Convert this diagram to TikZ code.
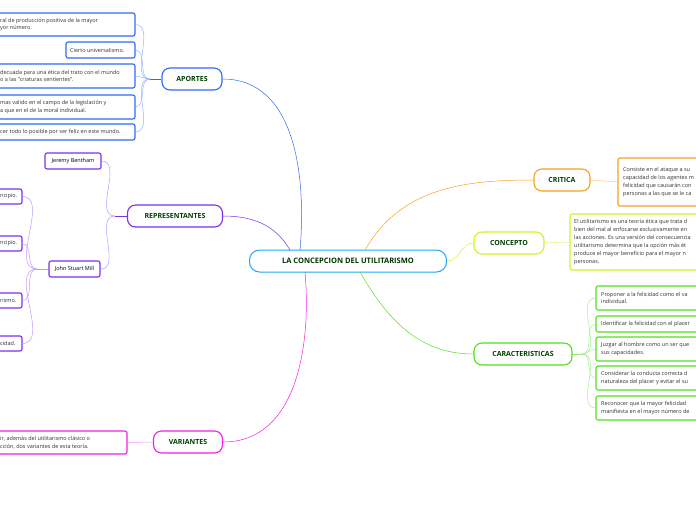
\documentclass[tikz,border=0pt]{standalone}
\usepackage{fontspec}
\setmainfont{Open Sans}
\begin{document}
\begin{tikzpicture}[x=1pt,y=-1pt,
 main/.style={draw,line width=1.1pt,rounded corners=8pt,fill=white,font=\bfseries\fontsize{7}{8}\selectfont,text=green!25!black,inner sep=0pt},
 leaf/.style={draw,line width=1.1pt,rounded corners=2pt,fill=white},
 lt/.style={font=\fontsize{5.5}{7.8}\selectfont,text=black!80,align=left,anchor=west,inner sep=0pt},
 con/.style={line width=0.5pt}]
\useasboundingbox (0,0) rectangle (696,520);
\clip (0,0) rectangle (696,520);
\definecolor{colB}{HTML}{2F6BF5}
\definecolor{colP}{HTML}{7B2FF0}
\definecolor{colM}{HTML}{F020E0}
\definecolor{colO}{HTML}{F5A020}
\definecolor{colY}{HTML}{D8F020}
\definecolor{colG}{HTML}{50E020}
% central
\node[draw=colB!60!cyan,line width=1pt,rounded corners=10pt,minimum width=197pt,minimum height=22pt,font=\bfseries\fontsize{7.5}{8}\selectfont,text=green!20!black] (c) at (348,261) {LA CONCEPCION DEL UTILITARISMO};
\coordinate (cbl) at (300,250);\coordinate (cpl) at (290,250);\coordinate (cml) at (305,272);
\coordinate (col) at (365,250);\coordinate (cgl) at (360,272);
% main nodes
\node[main,draw=colB,minimum width=60pt,minimum height=22pt] (ap) at (192,79) {APORTES};
\node[main,draw=colP,minimum width=95pt,minimum height=22pt] (re) at (175,216) {REPRESENTANTES};
\node[main,draw=colM,minimum width=69pt,minimum height=22pt] (va) at (188,442) {VARIANTES};
\node[main,draw=colO,minimum width=56pt,minimum height=22pt] (cr) at (562,180) {CRITICA};
\node[main,draw=colY,minimum width=70pt,minimum height=22pt] (cn) at (509,243) {CONCEPTO};
\node[main,draw=colG,minimum width=98pt,minimum height=22pt] (ca) at (523,354) {CARACTERISTICAS};
% central connectors
\draw[con,colB] (cbl) to[out=85,in=0] (ap.east);
\draw[con,colP] (cpl) to[out=120,in=0] (re.east);
\draw[con,colM] (cml) to[out=-85,in=0] (va.east);
\draw[con,colO] (col) to[out=60,in=180] (cr.west);
\draw[con,colY] (c.east) to[out=0,in=180] (cn.west);
\draw[con,colG] (cgl) to[out=-60,in=180] (ca.west);
% APORTES leaves
\draw[leaf,draw=colB] (-10,13) rectangle (135,36); \node[lt] (a1) at (0,24.5) {ral de producción positiva de la mayor\\yor número.};
\draw[leaf,draw=colB] (66,42) rectangle (135,58); \node[lt] (a2) at (70,50) {Cierto universalismo.};
\draw[leaf,draw=colB] (-10,64) rectangle (135,88); \node[lt] (a3) at (0,76) {decuada para una ética del trato con el mundo\\o a las "criaturas sentientes".};
\draw[leaf,draw=colB] (-10,95) rectangle (135,119); \node[lt] (a4) at (0,107) {mas valido en el campo de la legislación y\\a que en el de la moral individual.};
\draw[leaf,draw=colB] (-10,124) rectangle (135,140); \node[lt] (a5) at (0,132) {cer todo lo posible por ser feliz en este mundo.};
\coordinate (apf) at (150,79);
\draw[con,colB] (ap.west) -- (apf);
\foreach \y in {24.5,50,76,107,132}{\draw[con,colB!50] (apf) to[out=180,in=0] (135,\y);}
% REPRESENTANTES
\node[leaf,draw=colP,font=\fontsize{5.5}{6}\selectfont,minimum width=56pt,minimum height=16pt,inner sep=1pt] (jb) at (73,161) {Jeremy Bentham};
\node[leaf,draw=colP,font=\fontsize{5.5}{6}\selectfont,minimum width=51pt,minimum height=16pt,inner sep=1pt] (jm) at (74.5,269) {John Stuart Mill};
\coordinate (ref) at (115,216);
\draw[con,colP] (re.west) -- (ref);
\draw[con,colP!50] (ref) to[out=180,in=0] (jb.east);
\draw[con,colP!50] (ref) to[out=180,in=0] (jm.east);
\draw[leaf,draw=colP] (-10,189) rectangle (22,204); \node[lt] at (0,196.5) {ncipio.};
\draw[leaf,draw=colP] (-10,236) rectangle (22,251); \node[lt] at (0,243.5) {ncipio.};
\draw[leaf,draw=colP] (-10,293) rectangle (22,308); \node[lt] at (0,300.5) {rismo.};
\draw[leaf,draw=colP] (-10,336) rectangle (22,351); \node[lt] at (0,343.5) {cidad.};
\coordinate (jmf) at (37,269);
\draw[con,colP!50] (jm.west) -- (jmf);
\foreach \y in {196.5,243.5,300.5,343.5}{\draw[con,colP!50] (jmf) to[out=180,in=0] (22,\y);}
% VARIANTES
\draw[leaf,draw=colM] (-10,431) rectangle (127,454); \node[lt] (v1) at (0,442.5) {ir, además del utilitarismo clásico o\\cción, dos variantes de esta teoría.};
\draw[con,colM!50] (va.west) -- (127,442.5);
% CRITICA
\draw[leaf,draw=colO] (618,158) rectangle (710,206); \node[lt] (k1) at (623,182) {Consiste en el ataque a su\\capacidad de los agentes m\\felicidad que causarán con\\personas a las que se le ca};
\draw[con,colO!60] (cr.east) -- (618,182);
% CONCEPTO
\draw[leaf,draw=colY] (570,214) rectangle (710,270); \node[lt,font=\fontsize{5.5}{7.9}\selectfont] (k2) at (574,242) {El utilitarismo es una teoría ética que trata d\\bien del mal al enfocarse exclusivamente en\\las acciones. Es una versión del consecuencia\\utilitarismo determina que la opción más ét\\produce el mayor beneficio para el mayor n\\personas.};
\draw[con,colY!70] (cn.east) -- (570,242);
% CARACTERISTICAS
\draw[leaf,draw=colG] (596,286) rectangle (710,310); \node[lt] at (601,298) {Proponer a la felicidad como el va\\individual.};
\draw[leaf,draw=colG] (596,316) rectangle (710,332); \node[lt] at (601,324) {Identificar la felicidad con el placer};
\draw[leaf,draw=colG] (596,337) rectangle (710,361); \node[lt] at (601,349) {Juzgar al hombre como un ser que\\sus capacidades.};
\draw[leaf,draw=colG] (596,366) rectangle (710,390); \node[lt] at (601,378) {Considerar la conducta correcta d\\naturaleza del placer y evitar el su};
\draw[leaf,draw=colG] (596,396) rectangle (710,420); \node[lt] at (601,408) {Reconocer que la mayor felicidad\\manifiesta en el mayor número de};
\coordinate (caf) at (582,354);
\draw[con,colG!60] (ca.east) -- (caf);
\foreach \y in {298,324,349,378,408}{\draw[con,colG!50] (caf) to[out=0,in=180] (596,\y);}
\end{tikzpicture}
\end{document}
